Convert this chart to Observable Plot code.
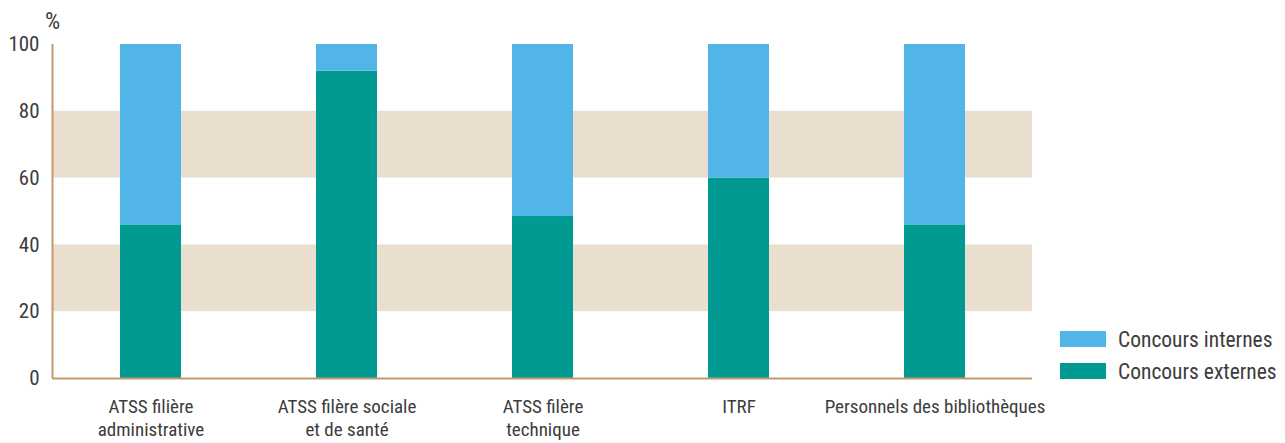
<!DOCTYPE html>
<html>
<head>
<meta charset="utf-8">
<script src="https://cdn.jsdelivr.net/npm/d3@7"></script>
<script src="https://cdn.jsdelivr.net/npm/@observablehq/plot@0.6"></script>
<style>
  html, body { margin: 0; padding: 0; background: #fff; }
  #wrap { position: relative; width: 1285px; height: 443px; font-family: "Liberation Sans Narrow", "Roboto Condensed", "DejaVu Sans Condensed", sans-serif; color: #3c3c3c; }
  #legend { position: absolute; left: 1060px; top: 331px; font-size: 21.5px; }
  .row { display: flex; align-items: center; height: 16px; margin-bottom: 16px; }
  .sw { width: 46px; height: 16px; margin-right: 12px; }
</style>
</head>
<body>
<div id="wrap"></div>
<script>
const categories = ["ATSS filière administrative", "ATSS filère sociale et de santé", "ATSS filère technique", "ITRF", "Personnels des bibliothèques"];
const tickLabels = ["ATSS filière\nadministrative", "ATSS filère sociale\net de santé", "ATSS filère\ntechnique", "ITRF", "Personnels des bibliothèques"];
const externes = [46, 92, 48.5, 60, 46];
const internes = [54, 8, 51.5, 40, 54];
const seriesNames = ["Concours externes", "Concours internes"];
const seriesColors = ["#009a93", "#52b5e8"];
const bands = [[20, 40], [60, 80]];
const yTicks = [0, 20, 40, 60, 80, 100];

const data = [];
categories.forEach((c, i) => {
  data.push({cat: c, serie: seriesNames[0], value: externes[i]});
  data.push({cat: c, serie: seriesNames[1], value: internes[i]});
});
const labelOf = new Map(categories.map((c, i) => [c, tickLabels[i]]));
const font = '"Liberation Sans Narrow", "Roboto Condensed", "DejaVu Sans Condensed", sans-serif';

const W = 1285, H = 443, mL = 52, mR = 253, mT = 44, mB = 65;
const frameW = W - mL - mR;

const chart = Plot.plot({
  width: W,
  height: H,
  marginLeft: mL,
  marginRight: mR,
  marginTop: mT,
  marginBottom: mB,
  style: {fontFamily: font, fontSize: "21px", color: "#3c3c3c", background: "transparent"},
  x: {domain: categories, paddingInner: 0.69, paddingOuter: 0.345, align: 0.5},
  y: {domain: [0, 100]},
  color: {domain: seriesNames, range: seriesColors},
  marks: [
    Plot.rect(bands, {y1: d => d[0], y2: d => d[1], fill: "#eadfcf"}),
    Plot.barY(data, {x: "cat", y: "value", fill: "serie", order: seriesNames}),
    Plot.axisY({ticks: yTicks, tickSize: 0, tickPadding: 13, label: null, fontSize: 21, fill: "#3c3c3c"}),
    Plot.axisX({tickSize: 0, tickPadding: 18, label: null, tickFormat: d => labelOf.get(d), lineHeight: 1.21, fontSize: 19, fill: "#3c3c3c"}),
    Plot.ruleY([0], {stroke: "#c09a6b", strokeWidth: 2}),
    Plot.ruleX([0], {x: null, y1: 0, y2: 100, dx: -frameW / 2, stroke: "#c09a6b", strokeWidth: 2}),
    Plot.text(["%"], {frameAnchor: "top-left", lineAnchor: "bottom", dy: -16, text: d => d, fontSize: 24, fill: "#3c3c3c", textAnchor: "middle"})
  ]
});

const wrap = document.getElementById("wrap");
wrap.appendChild(chart);
const legend = document.createElement("div");
legend.id = "legend";
[[seriesNames[1], seriesColors[1]], [seriesNames[0], seriesColors[0]]].forEach(([n, c]) => {
  const row = document.createElement("div");
  row.className = "row";
  const sw = document.createElement("div");
  sw.className = "sw";
  sw.style.background = c;
  const t = document.createElement("span");
  t.textContent = n;
  row.appendChild(sw);
  row.appendChild(t);
  legend.appendChild(row);
});
wrap.appendChild(legend);
</script>
</body>
</html>
